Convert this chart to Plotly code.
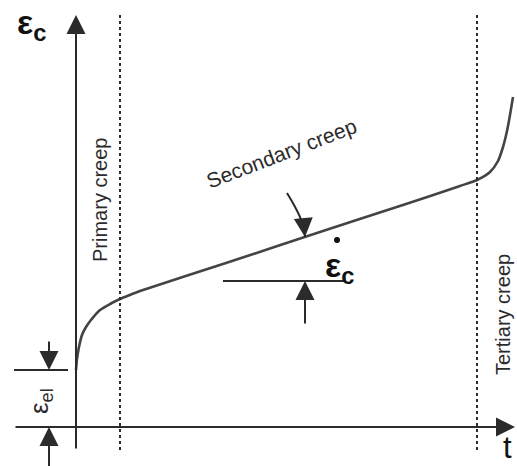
import plotly.graph_objects as go

# ---- data (time t, creep strain eps) in chart units ----
curve_t   = [0, 1, 3, 6, 10, 15, 24, 34, 44, 55, 64, 150, 250, 330, 384, 401, 414, 422, 427, 431, 434, 437]
curve_eps = [57, 68, 80, 92, 100, 107, 117, 123, 128, 132.5, 136, 164, 197, 223, 241, 247, 255, 266, 280, 296, 312, 330]

stage_bounds = [44, 401]          # primary/secondary and secondary/tertiary boundaries
eps_el = 57                       # elastic strain
axis_x = [-62, 439]               # horizontal axis extent
axis_y = [-23, 412]               # vertical axis extent
bound_y = [-23, 412]              # dotted boundary extent

stage_labels = ["Primary creep", "Secondary creep", "Tertiary creep"]
stage_label_pos = [(24, 227), (205, 274), (427, 112)]
stage_label_angle = [-90, -21, -90]

slope_ref_t = [147, 269]          # horizontal reference line under the slope
slope_ref_eps = 146
slope_arrow_t = 229
slope_pointer_t = [211, 218, 224, 228, 229]
slope_pointer_eps = [234, 222, 210, 199, 190]
rate_dot = (261, 187)             # dot of the strain-rate symbol

ink = "#2b2b2b"
curve_col = "#444444"
FONT = "Liberation Sans, Arial, sans-serif"

fig = go.Figure()

# creep curve
fig.add_trace(go.Scatter(x=curve_t, y=curve_eps, mode="lines",
                         line=dict(color=curve_col, width=2.6, shape="spline", smoothing=0.6),
                         hoverinfo="skip", showlegend=False))

# dotted stage boundaries
for b in stage_bounds:
    fig.add_trace(go.Scatter(x=[b, b], y=bound_y, mode="lines",
                             line=dict(color=ink, width=2, dash="dot"),
                             hoverinfo="skip", showlegend=False))

# elastic strain line
fig.add_trace(go.Scatter(x=[axis_x[0], -8], y=[eps_el, eps_el], mode="lines",
                         line=dict(color=ink, width=2), hoverinfo="skip", showlegend=False))

# slope reference line
fig.add_trace(go.Scatter(x=slope_ref_t, y=[slope_ref_eps, slope_ref_eps], mode="lines",
                         line=dict(color=ink, width=2), hoverinfo="skip", showlegend=False))

# curved pointer shaft
fig.add_trace(go.Scatter(x=slope_pointer_t, y=slope_pointer_eps, mode="lines",
                         line=dict(color=ink, width=2, shape="spline"),
                         hoverinfo="skip", showlegend=False))

# dot over the strain-rate epsilon
fig.add_trace(go.Scatter(x=[rate_dot[0]], y=[rate_dot[1]], mode="markers",
                         marker=dict(color="#111111", size=6, symbol="circle"),
                         hoverinfo="skip", showlegend=False))

def arrow(x, y, ax, ay, size=1.9):
    fig.add_annotation(x=x, y=y, ax=ax, ay=ay, xref="x", yref="y", axref="x", ayref="y",
                       text="", showarrow=True, arrowhead=2, arrowsize=size,
                       arrowwidth=2, arrowcolor=ink)

# axes with arrows
arrow(axis_x[1], 0, axis_x[0], 0)
arrow(0, axis_y[1], 0, axis_y[0])
# elastic strain arrows
arrow(-27, eps_el, -27, eps_el + 30)
arrow(-27, 0, -27, -45)
# slope arrows
arrow(slope_arrow_t, slope_ref_eps, slope_arrow_t, slope_ref_eps - 44)
arrow(slope_pointer_t[-1], slope_pointer_eps[-1], slope_pointer_t[-2], slope_pointer_eps[-2] + 2)

# stage labels
for txt, (px, py), ang in zip(stage_labels, stage_label_pos, stage_label_angle):
    fig.add_annotation(x=px, y=py, xref="x", yref="y", text=txt, showarrow=False,
                       textangle=ang, font=dict(family=FONT, size=20 if ang == -90 else 21, color=ink))

# symbol labels
fig.add_annotation(x=-45, y=403, xref="x", yref="y", text="<b>ε<sub>c</sub></b>",
                   showarrow=False, font=dict(family=FONT, size=34, color="#111111"))
fig.add_annotation(x=263, y=160, xref="x", yref="y", text="<b>ε<sub>c</sub></b>",
                   showarrow=False, font=dict(family=FONT, size=34, color="#111111"))
fig.add_annotation(x=-36, y=26, xref="x", yref="y", text="ε<sub>el</sub>", textangle=-90,
                   showarrow=False, font=dict(family=FONT, size=26, color=ink))
fig.add_annotation(x=431, y=-20, xref="x", yref="y", text="t",
                   showarrow=False, font=dict(family=FONT, size=31, color="#111111"))

fig.update_layout(
    width=517, height=466,
    margin=dict(l=0, r=0, t=0, b=0),
    paper_bgcolor="white", plot_bgcolor="white",
    xaxis=dict(range=[-76, 441], visible=False, fixedrange=True),
    yaxis=dict(range=[-39, 427], visible=False, fixedrange=True),
    showlegend=False,
)

fig.write_html("out.html", config={"displayModeBar": False},
               post_script="document.body.style.margin='0';document.body.style.overflow='hidden';")
